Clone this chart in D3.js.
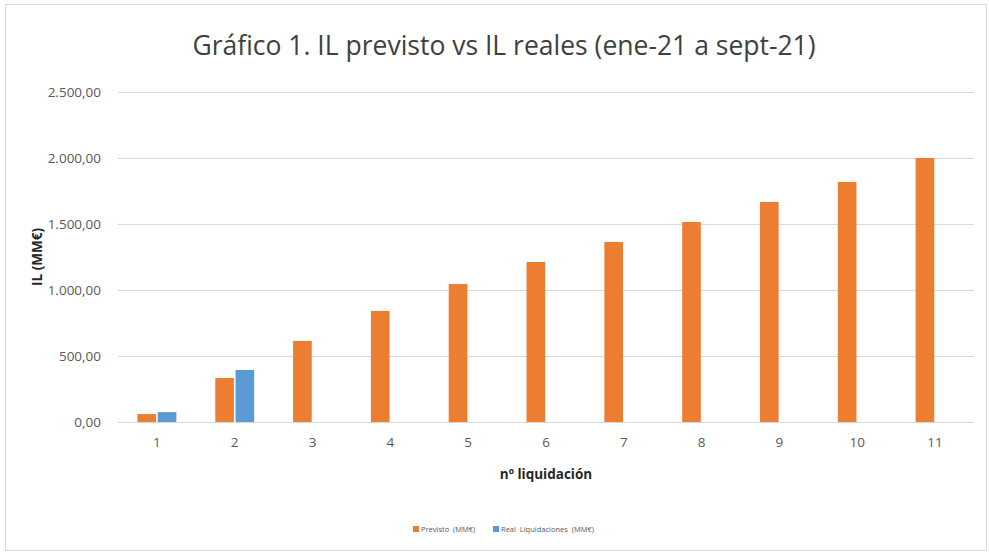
<!DOCTYPE html>
<html>
<head>
<meta charset="utf-8">
<script src="https://cdn.jsdelivr.net/npm/d3@7"></script>
<style>
  body { margin: 0; background: #fff; }
  text { font-family: "Open Sans", "Liberation Sans", sans-serif; }
</style>
</head>
<body>
<svg id="chart" width="989" height="552"></svg>
<script>
const categories = ["1", "2", "3", "4", "5", "6", "7", "8", "9", "10", "11"];
const seriesNames = ["Previsto  (MM€)", "Real  Liquidaciones  (MM€)"];
const previsto = [60, 333, 614, 841, 1045, 1212, 1364, 1515, 1667, 1818, 2000];
const realLiq = [75, 394];
const yTicks = [0, 500, 1000, 1500, 2000, 2500];
const colors = ["#ED7D31", "#5B9BD5"];

function drawChart() {
  const svg = d3.select("#chart");
  svg.selectAll("*").remove();

  // chart frame
  svg.append("rect")
    .attr("x", 5.5).attr("y", 4.5)
    .attr("width", 981).attr("height", 546)
    .attr("fill", "#fff")
    .attr("stroke", "#d9d9d9");

  const margin = { top: 92, left: 118, right: 15, bottom: 130 };
  const width = 989 - margin.left - margin.right;
  const height = 552 - margin.top - margin.bottom;

  const g = svg.append("g")
    .attr("transform", `translate(${margin.left},${margin.top})`);

  const x0 = d3.scaleBand()
    .domain(categories)
    .range([0, width])
    .paddingInner(0.5)
    .paddingOuter(0.25);

  const x1 = d3.scaleBand()
    .domain([0, 1])
    .range([0, x0.bandwidth()])
    .paddingInner(0.08);

  const y = d3.scaleLinear()
    .domain([0, 2500])
    .range([height, 0]);

  const fmt = v => d3.formatLocale({ decimal: ",", thousands: ".", grouping: [3], currency: ["", "€"] }).format(",.2f")(v);

  // gridlines
  g.append("g")
    .selectAll("line")
    .data(yTicks)
    .join("line")
    .attr("x1", 0).attr("x2", width)
    .attr("y1", d => y(d) + 0.5).attr("y2", d => y(d) + 0.5)
    .attr("stroke", "#d9d9d9")
    .attr("stroke-width", 1);

  // y axis labels
  const yAxis = g.append("g")
    .call(d3.axisLeft(y).tickValues(yTicks).tickFormat(fmt).tickSize(0).tickPadding(17));
  yAxis.select(".domain").remove();
  yAxis.selectAll("text")
    .style("font-size", "13.5px")
    .style("fill", "#595959");

  // x axis
  const xAxis = g.append("g")
    .attr("transform", `translate(0,${height})`)
    .call(d3.axisBottom(x0).tickSize(0).tickPadding(15));
  xAxis.select(".domain").remove();
  xAxis.selectAll("text")
    .style("font-size", "13.5px")
    .style("fill", "#595959");

  // bars
  const series = [previsto, realLiq];
  series.forEach((vals, s) => {
    g.append("g")
      .selectAll("rect")
      .data(vals)
      .join("rect")
      .attr("x", (d, i) => x0(categories[i]) + x1(s))
      .attr("y", d => y(d))
      .attr("width", x1.bandwidth())
      .attr("height", d => y(0) - y(d))
      .attr("fill", colors[s]);
  });

  // base line
  g.append("line")
    .attr("x1", 0).attr("x2", width)
    .attr("y1", height + 0.5).attr("y2", height + 0.5)
    .attr("stroke", "#d9d9d9");

  // title
  svg.append("text")
    .attr("x", 504).attr("y", 55)
    .attr("text-anchor", "middle")
    .style("font-size", "26.5px")
    .style("fill", "#404040")
    .text("Gráfico 1. IL previsto vs IL reales (ene-21 a sept-21)");

  // axis titles
  svg.append("text")
    .attr("x", margin.left + width / 2).attr("y", 479)
    .attr("text-anchor", "middle")
    .style("font-size", "13.5px")
    .style("font-weight", "bold")
    .style("fill", "#262626")
    .text("nº liquidación");

  svg.append("text")
    .attr("transform", `translate(42,${margin.top + height / 2}) rotate(-90)`)
    .attr("text-anchor", "middle")
    .style("font-size", "13.5px")
    .style("font-weight", "bold")
    .style("fill", "#262626")
    .text("IL (MM€)");

  // legend
  const legend = svg.append("g").attr("transform", "translate(413,532)");
  const legX = [0, 80];
  seriesNames.forEach((name, i) => {
    const lg = legend.append("g").attr("transform", `translate(${legX[i]},0)`);
    lg.append("rect")
      .attr("x", 0).attr("y", -6)
      .attr("width", 6).attr("height", 6)
      .attr("fill", colors[i]);
    lg.append("text")
      .attr("x", 8).attr("y", 0)
      .style("font-size", "7.5px")
      .style("fill", "#595959")
      .style("white-space", "pre")
      .text(name);
  });
}

drawChart();
</script>
</body>
</html>
